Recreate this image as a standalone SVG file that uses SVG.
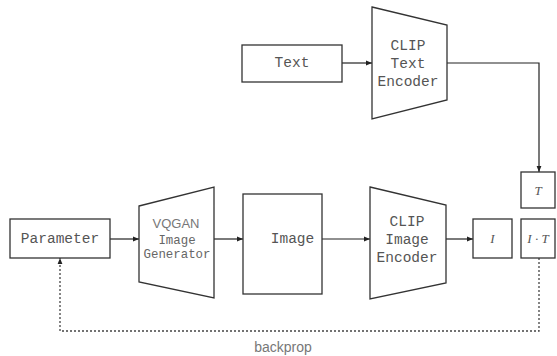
<svg xmlns="http://www.w3.org/2000/svg" width="557" height="356" viewBox="0 0 557 356">
<defs>
<marker id="ah" viewBox="0 0 10 10" refX="10" refY="5" markerWidth="6" markerHeight="6" markerUnits="userSpaceOnUse" orient="auto">
<path d="M0,1 L10,5 L0,9 z" fill="#222"/>
</marker>
<style>
.box{fill:#fff;stroke:#333;stroke-width:1.3}
.mono{font-family:"Liberation Mono","Courier New",monospace;font-size:14.5px;fill:#555;text-anchor:middle;dominant-baseline:central}
.monos{font-family:"Liberation Mono","Courier New",monospace;font-size:12.4px;fill:#666;text-anchor:middle;dominant-baseline:central}
.sans{font-family:"Liberation Sans",Arial,sans-serif;fill:#777;text-anchor:middle;dominant-baseline:central}
.math{font-family:"Liberation Serif","Times New Roman",serif;font-style:italic;font-size:13px;fill:#555;text-anchor:middle;dominant-baseline:central}
.line{fill:none;stroke:#222;stroke-width:1.2}
.dot{fill:none;stroke:#444;stroke-width:1.3;stroke-dasharray:2,2}
</style>
</defs>
<rect width="557" height="356" fill="#fff"/>
<g id="connectors">
<line class="line" x1="110" y1="239" x2="139" y2="239" marker-end="url(#ah)"/>
<line class="line" x1="214" y1="239" x2="243" y2="239" marker-end="url(#ah)"/>
<line class="line" x1="322" y1="239" x2="370" y2="239" marker-end="url(#ah)"/>
<line class="line" x1="446" y1="239" x2="473" y2="239" marker-end="url(#ah)"/>
<line class="line" x1="342" y1="63" x2="372" y2="63" marker-end="url(#ah)"/>
<polyline class="line" points="447,63 539,63 539,172" marker-end="url(#ah)"/>
<polyline class="dot" points="539,258 539,331 60,331 60,258" marker-end="url(#ah)"/>
<text class="sans" x="283" y="347" font-size="14">backprop</text>
</g>
<g id="parameter">
<rect class="box" x="10" y="219" width="100" height="39"/>
<text class="mono" x="60" y="239">Parameter</text>
</g>
<g id="vqgan">
<polygon class="box" points="139,206 214,187 214,298 139,282"/>
<text class="sans" x="176" y="223" font-size="13">VQGAN</text>
<text class="monos" x="177" y="241">Image</text>
<text class="monos" x="177" y="255">Generator</text>
</g>
<g id="image">
<rect class="box" x="243" y="194" width="79" height="100"/>
<text class="mono" x="292.5" y="239">Image</text>
</g>
<g id="clip-image">
<polygon class="box" points="370,187 446,205 446,283 370,299"/>
<text class="mono" x="407" y="222">CLIP</text>
<text class="mono" x="407" y="240">Image</text>
<text class="mono" x="407" y="258">Encoder</text>
</g>
<g id="text">
<rect class="box" x="242" y="45" width="100" height="37"/>
<text class="mono" x="292" y="63">Text</text>
</g>
<g id="clip-text">
<polygon class="box" points="372,7 447,25 447,100 372,119"/>
<text class="mono" x="408" y="46">CLIP</text>
<text class="mono" x="408" y="64">Text</text>
<text class="mono" x="408" y="82">Encoder</text>
</g>
<g id="I">
<rect class="box" x="473" y="219" width="39" height="39"/>
<text class="math" x="492.5" y="238.5">I</text>
</g>
<g id="T">
<rect class="box" x="521" y="172" width="34" height="36"/>
<text class="math" x="538" y="190">T</text>
</g>
<g id="IT">
<rect class="box" x="521" y="219" width="34" height="39"/>
<text class="math" x="538" y="238.5">I · T</text>
</g>
</svg>
